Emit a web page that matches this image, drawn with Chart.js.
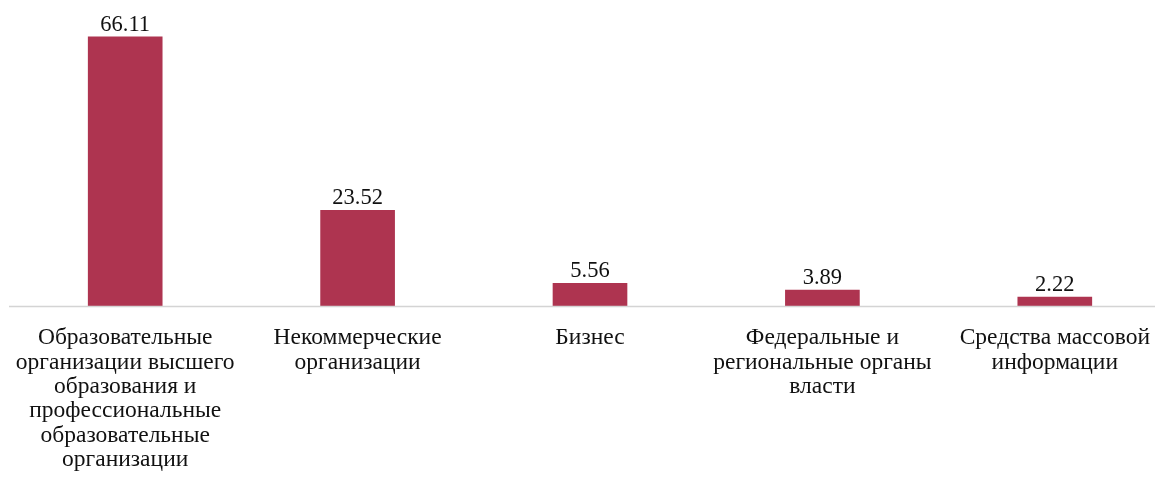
<!DOCTYPE html>
<html>
<head>
<meta charset="utf-8">
<script src="https://cdn.jsdelivr.net/npm/chart.js@4"></script>
<style>
  html, body { margin: 0; padding: 0; background: #fff; overflow: hidden; }
  #wrap { width: 1159px; height: 478px; overflow: hidden; }
</style>
</head>
<body>
<div id="wrap"><canvas id="barChart" width="1171" height="478"></canvas></div>
<script>
const categories = [
    ['Образовательные', 'организации высшего', 'образования и', 'профессиональные', 'образовательные', 'организации'],
    ['Некоммерческие', 'организации'],
    ['Бизнес'],
    ['Федеральные и', 'региональные органы', 'власти'],
    ['Средства массовой', 'информации']
];
const values = [66.11, 23.52, 5.56, 3.89, 2.22];

// Werte über den Balken + graue Achsenlinie
const ValueLabels = {
    id: 'valueLabels',
    afterDatasetsDraw(chart) {
        const {ctx, chartArea} = chart;
        ctx.save();
        ctx.strokeStyle = '#d4d4d4';
        ctx.lineWidth = 1.5;
        ctx.beginPath();
        ctx.moveTo(9, chartArea.bottom + 0.5);
        ctx.lineTo(1155, chartArea.bottom + 0.5);
        ctx.stroke();

        ctx.font = '22.5px "Liberation Serif"';
        ctx.fillStyle = '#111';
        ctx.textAlign = 'center';
        ctx.textBaseline = 'alphabetic';
        chart.getDatasetMeta(0).data.forEach((bar, i) => {
            ctx.fillText(values[i].toFixed(2), bar.x, bar.y - 6);
        });
        ctx.restore();
    }
};

const data = {
    labels: categories,
    datasets: [{
        data: values,
        backgroundColor: '#ae3450',
        borderWidth: 0,
        barThickness: 74
    }]
};

const options = {
    responsive: false,
    animation: false,
    layout: {
        padding: {left: 9, right: 0, top: 21, bottom: 0}
    },
    plugins: {
        legend: {display: false},
        tooltip: {enabled: false}
    },
    scales: {
        x: {
            grid: {display: false, drawTicks: false},
            border: {display: false},
            ticks: {
                color: '#111',
                font: {family: 'Liberation Serif', size: 23.5, lineHeight: 1.035},
                padding: 20,
                maxRotation: 0,
                autoSkip: false
            },
            afterFit(scale) {
                scale.height = 172;
                scale.paddingLeft = 0;
                scale.paddingRight = 0;
            }
        },
        y: {
            display: false,
            min: 0,
            max: 70
        }
    }
};

new Chart(document.getElementById('barChart'), {
    type: 'bar',
    data: data,
    options: options,
    plugins: [ValueLabels]
});
</script>
</body>
</html>
